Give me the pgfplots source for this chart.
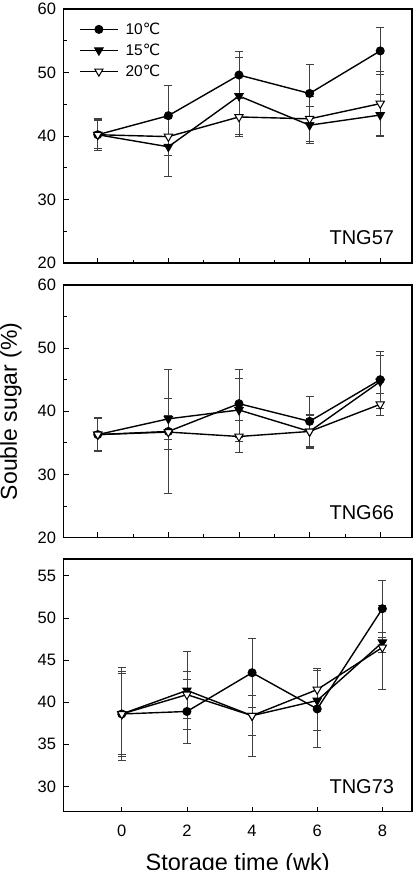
\documentclass[border=0pt]{standalone}
\usepackage{fontspec}
\setmainfont{Liberation Sans}
\newfontfamily\symfont{DejaVu Sans}
\usepackage{pgfplots}
\pgfplotsset{compat=1.18}
\newcommand{\degC}{{\symfont ℃}}

\tikzset{tag/.style={anchor=base east, inner sep=0pt, font=\fontsize{20}{22}\selectfont}}

\pgfplotsset{
  panel/.style={
    scale only axis, width=348.5pt,
    axis line style={line width=1.5pt},
    tick align=inside, xtick pos=bottom, ytick pos=left,
    major tick length=5pt, minor tick length=3pt,
    every tick/.style={black, line width=0.8pt},
    xtick={0,2,4,6,8},
    tick label style={font=\fontsize{16.5}{18}\selectfont},
    /pgf/number format/assume math mode=true,
    yticklabel style={xshift=-4pt},
    clip=false,
  },
  ebar/.style={error bars/.cd, y dir=both, y explicit,
    error bar style={line width=0.8pt, black!75},
    error mark options={rotate=90, mark size=4pt, line width=0.8pt, black!75}},
  s10/.style={black, line width=1.4pt, mark=*, mark size=4pt,
    mark options={solid, line width=1pt, fill=black}, ebar},
  s15/.style={black, line width=1.4pt, mark=triangle*, mark size=4.8pt,
    mark options={solid, line width=1pt, rotate=180, fill=black}, ebar},
  s20/.style={black, line width=1.4pt, mark=triangle*, mark size=4.8pt,
    mark options={solid, line width=1pt, rotate=180, fill=white}, ebar},
}

\begin{document}
\begin{tikzpicture}
% ---------- TNG57 ----------
\begin{axis}[panel, at={(63.5pt,607pt)}, height=254pt,
  xmin=-0.97, xmax=8.9, ymin=20, ymax=60,
  ytick={20,30,...,60}, minor xtick={1,3,5,7}, minor ytick={25,35,...,55},
  xticklabels={},
  legend style={draw=none, fill=none, anchor=north west,
    at={(axis description cs:0.0445,0.950)}, inner sep=0pt,
    font=\fontsize{15.5}{17}\selectfont, row sep=6pt, column sep=6pt,
    nodes={inner sep=1pt}},
  legend cell align=left,
  legend image code/.code={\draw[mark repeat=2, mark phase=2, #1]
    plot coordinates {(0pt,0pt) (19pt,0pt) (38pt,0pt)};},
]
\addplot+[s10] coordinates {(0,40.2) +- (0,2.5) (2,43.2) +- (0,4.7) (4,49.6) +- (0,3.7) (6,46.7) +- (0,4.5) (8,53.4) +- (0,3.7)};
\addplot+[s15] coordinates {(0,40.2) +- (0,2.4) (2,38.3) +- (0,4.6) (4,46.3) +- (0,6.0) (6,41.7) +- (0,2.9) (8,43.3) +- (0,3.3)};
\addplot+[s20] coordinates {(0,40.2) +- (0,2.2) (2,39.9) +- (0,2.9) (4,43.0) +- (0,3.0) (6,42.7) +- (0,3.6) (8,45.1) +- (0,5.0)};
\legend{10\degC, 15\degC, 20\degC}
\node[tag] at (rel axis cs:0.949,0.071) {TNG57};
\end{axis}

% ---------- TNG66 ----------
\begin{axis}[panel, at={(63.5pt,332.5pt)}, height=252.5pt,
  xmin=-0.97, xmax=8.9, ymin=20, ymax=60,
  ytick={20,30,...,60}, minor xtick={1,3,5,7}, minor ytick={25,35,...,55},
  xticklabels={},
  ylabel={Souble sugar (\%)},
  ylabel style={at={(axis description cs:-0.1506,0.5)}, anchor=center,
    font=\fontsize{23}{26}\selectfont},
]
\addplot+[s10] coordinates {(0,36.3) +- (0,2.7) (2,36.8) +- (0,9.8) (4,41.2) +- (0,5.4) (6,38.4) +- (0,4.0) (8,45.0) +- (0,4.5)};
\addplot+[s15] coordinates {(0,36.3) +- (0,2.6) (2,38.8) +- (0,3.3) (4,40.2) +- (0,5.0) (6,36.8) +- (0,2.7) (8,44.7) +- (0,4.2)};
\addplot+[s20] coordinates {(0,36.3) +- (0,2.5) (2,36.7) +- (0,2.7) (4,36.0) +- (0,2.5) (6,36.8) +- (0,2.6) (8,41.1) +- (0,1.8)};
\node[tag] at (rel axis cs:0.949,0.071) {TNG66};
\end{axis}

% ---------- TNG73 ----------
\begin{axis}[panel, at={(63.5pt,58.3pt)}, height=252.7pt,
  xmin=-1.79, xmax=8.91, ymin=27, ymax=57,
  ytick={30,35,...,55},
  xticklabels={0,2,4,6,8},
  xticklabel style={yshift=-9.5pt},
  xlabel={Storage time (wk)},
  xlabel style={at={(axis description cs:0.5,-0.2335)}, anchor=base,
    font=\fontsize{23.5}{26}\selectfont},
]
\addplot+[s10] coordinates {(0,38.6) +- (0,5.5) (2,38.9) +- (0,3.8) (4,43.5) +- (0,4.1) (6,39.2) +- (0,4.6) (8,51.1) +- (0,3.4)};
\addplot+[s15] coordinates {(0,38.6) +- (0,5.0) (2,41.4) +- (0,4.6) (4,38.4) +- (0,2.4) (6,40.2) +- (0,3.6) (8,47.1) +- (0,1.2)};
\addplot+[s20] coordinates {(0,38.6) +- (0,4.8) (2,40.9) +- (0,2.8) (4,38.4) +- (0,4.8) (6,41.5) +- (0,2.5) (8,46.5) +- (0,5.0)};
\node[tag] at (rel axis cs:0.949,0.071) {TNG73};
\end{axis}

\pgfresetboundingbox
\path[use as bounding box] (0pt,0pt) rectangle (416pt,870pt);
\end{tikzpicture}
\end{document}
